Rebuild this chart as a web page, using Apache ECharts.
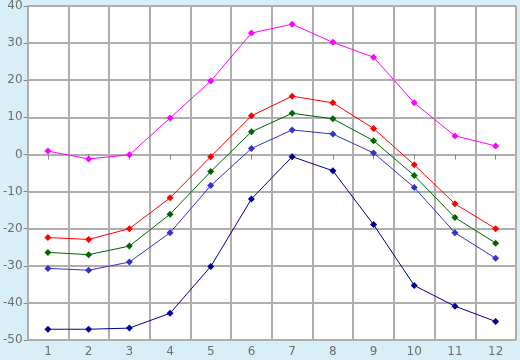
<!DOCTYPE html>
<html><head><meta charset="utf-8">
<script src="https://cdn.jsdelivr.net/npm/echarts@6/dist/echarts.min.js"></script>
<style>html,body{margin:0;padding:0;background:#D9EFF7}#c{width:520px;height:360px}</style>
</head><body><div id="c"></div>
<script>
const categories = ['1','2','3','4','5','6','7','8','9','10','11','12'];
const magenta = [0.9, -1.2, -0.1, 9.8, 19.8, 32.7, 35.1, 30.2, 26.2, 13.9, 5.0, 2.3];
const red = [-22.4, -22.9, -20.0, -11.7, -0.6, 10.4, 15.7, 13.9, 7.0, -2.8, -13.3, -20.0];
const green = [-26.4, -27.0, -24.7, -16.1, -4.6, 6.1, 11.1, 9.6, 3.7, -5.7, -17.0, -23.9];
const blue = [-30.7, -31.2, -29.0, -21.1, -8.4, 1.6, 6.6, 5.5, 0.4, -8.9, -21.1, -28.0];
const navy = [-47.1, -47.1, -46.8, -42.8, -30.2, -12.0, -0.6, -4.4, -18.9, -35.3, -40.9, -45.0];

const seriesDefs = [
  {data: magenta, color: '#FF00FF'},
  {data: red, color: '#FF0000'},
  {data: green, color: '#006600'},
  {data: blue, color: '#3333CC'},
  {data: navy, color: '#000099'}
];
const chart = echarts.init(document.getElementById('c'));
const lab = {color: '#6E6E6E', fontFamily: 'DejaVu Sans', fontSize: 12};
chart.setOption({
  backgroundColor: '#D9EFF7',
  animation: false,
  grid: {left: 26, top: 5, right: 4, bottom: 20, show: true, backgroundColor: '#FFFFFF', borderWidth: 0},
  xAxis: {
    type: 'category', data: categories, boundaryGap: true,
    axisLine: {show: true, lineStyle: {color: '#AEAEAE', width: 2}},
    axisTick: {show: true, alignWithLabel: true, length: 5, lineStyle: {color: '#888888'}},
    axisLabel: Object.assign({margin: 6}, lab),
    splitLine: {show: true, lineStyle: {color: '#AEAEAE', width: 2}}
  },
  yAxis: {
    type: 'value', min: -50, max: 40, interval: 10,
    axisLine: {show: true, lineStyle: {color: '#AEAEAE', width: 2}},
    axisTick: {show: true, length: 4, lineStyle: {color: '#888888'}},
    axisLabel: Object.assign({margin: 5}, lab),
    splitLine: {show: true, lineStyle: {color: '#AEAEAE', width: 2}}
  },
  series: seriesDefs.map(s => ({
    type: 'line', data: s.data, symbol: 'diamond', symbolSize: 7,
    showSymbol: true,
    lineStyle: {color: s.color, width: 1},
    itemStyle: {color: s.color, borderWidth: 0},
    emphasis: {disabled: true}
  }))
});
</script></body></html>
